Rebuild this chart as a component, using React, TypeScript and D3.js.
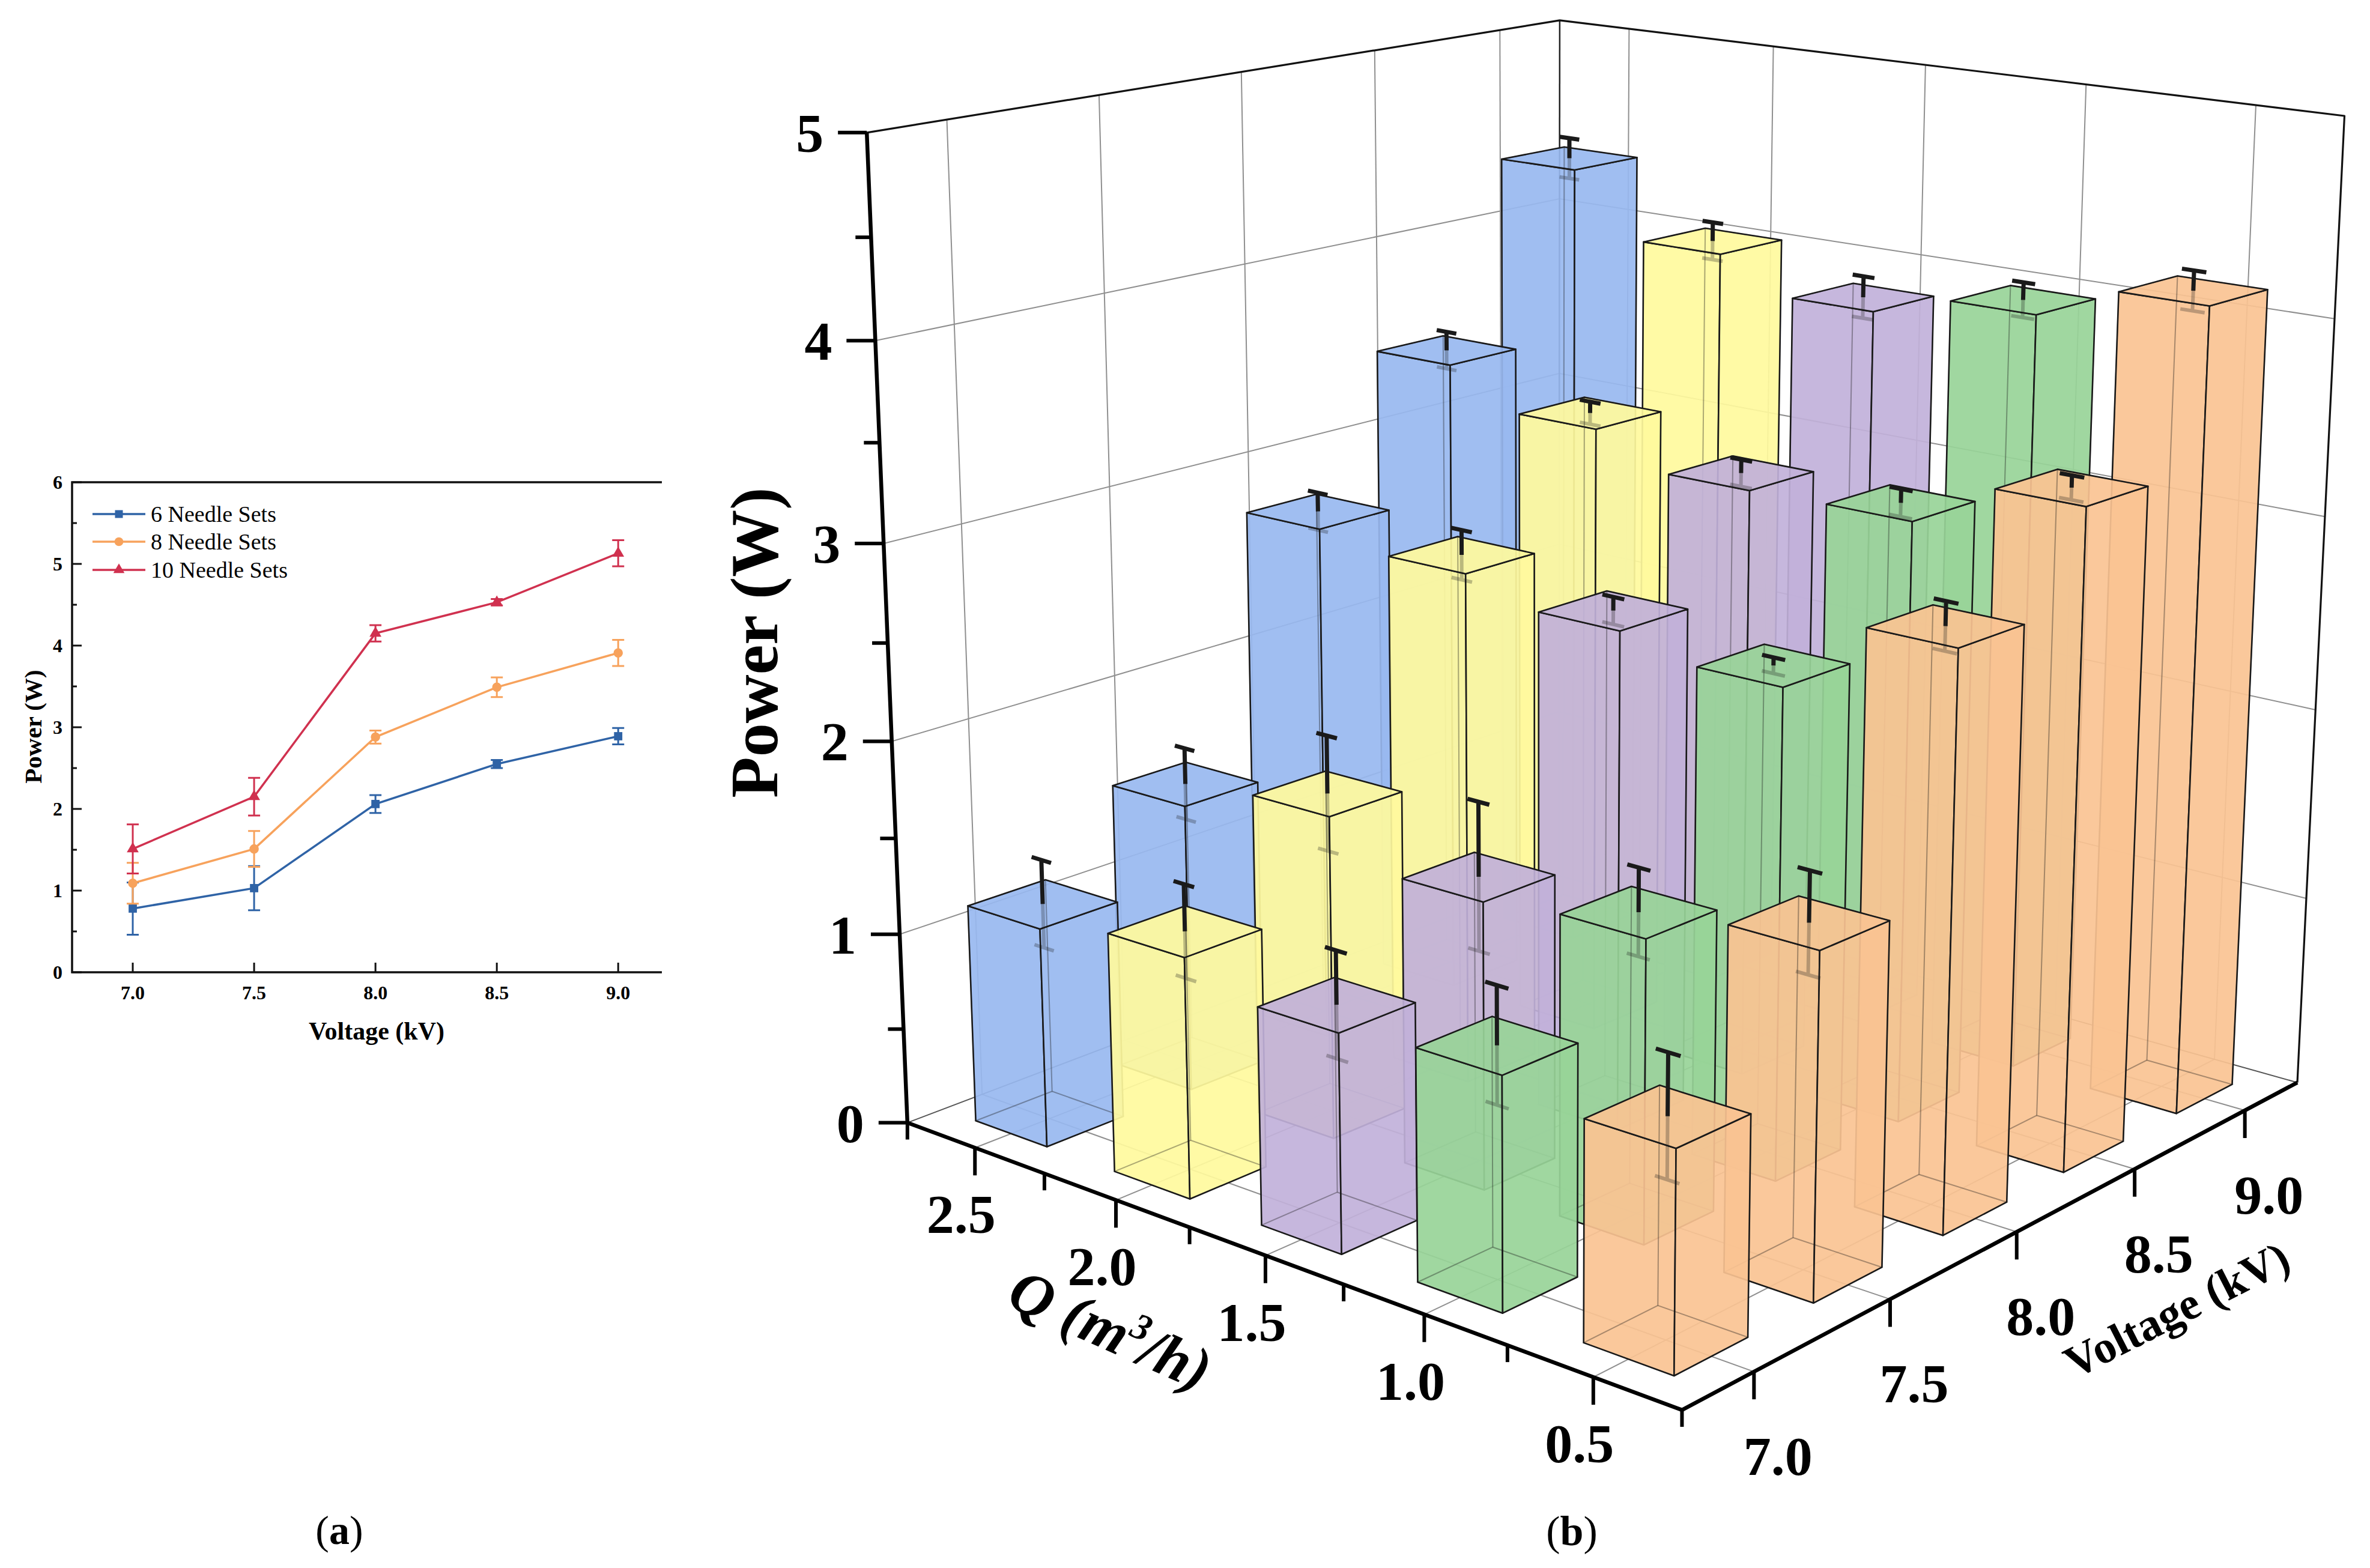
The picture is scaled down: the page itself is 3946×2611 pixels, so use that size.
import React, { useEffect, useRef } from 'react';
import * as d3 from 'd3';

const WIDTH = 3946;
const HEIGHT = 2611;
const SERIF = '"Liberation Serif", "Times New Roman", serif';

// ---------- panel (a): power vs voltage ----------
const voltageA = [7.0, 7.5, 8.0, 8.5, 9.0];
const power6 = [0.78, 1.03, 2.06, 2.55, 2.89];
const err6 = [0.32, 0.27, 0.11, 0.05, 0.1];
const power8 = [1.09, 1.51, 2.88, 3.49, 3.91];
const err8 = [0.25, 0.22, 0.08, 0.12, 0.16];
const power10 = [1.51, 2.15, 4.15, 4.53, 5.13];
const err10 = [0.3, 0.23, 0.1, 0.04, 0.16];
const seriesNames = ['6 Needle Sets', '8 Needle Sets', '10 Needle Sets'];
const seriesColors = ['#2f63a6', '#f7a25c', '#d0314f'];
const yTicksA = [0, 1, 2, 3, 4, 5, 6];

// ---------- panel (b): 3D bars, power vs Q and voltage ----------
const flowRates = [2.5, 2.0, 1.5, 1.0, 0.5];
const voltageB = [7.0, 7.5, 8.0, 8.5, 9.0];
const powerQ25 = [1.14, 1.52, 2.76, 3.45, 4.35];
const powerQ20 = [1.23, 1.68, 2.7, 3.26, 4.02];
const powerQ15 = [1.1, 1.47, 2.59, 3.1, 3.85];
const powerQ10 = [1.15, 1.52, 2.5, 3.11, 3.97];
const powerQ05 = [1.07, 1.7, 2.88, 3.35, 4.15];
const errQ25 = [0.23, 0.19, 0.1, 0.1, 0.11];
const errQ20 = [0.24, 0.3, 0.13, 0.06, 0.1];
const errQ15 = [0.27, 0.38, 0.07, 0.07, 0.11];
const errQ10 = [0.29, 0.22, 0.04, 0.07, 0.09];
const errQ05 = [0.3, 0.25, 0.12, 0.06, 0.1];
const flowColors = ['#98b8ef', '#fffa9d', '#c1b0d9', '#98d498', '#fac392'];
const powerTicksB = [0, 1, 2, 3, 4, 5];

// perspective frame: where frame corners / ticks sit on the page [V, Q, P, x, y]
const frameRefs = [
  [6.75, 2.75, 0, 1512, 1871],
  [6.75, 2.75, 5, 1445, 220],
  [9.25, 2.75, 5, 2596, 34],
  [9.25, 0.25, 5, 3905, 193],
  [9.25, 0.25, 0, 3827, 1801],
  [6.75, 0.25, 0, 2800, 2348],
  [6.75, 2.5, 0, 1622, 1912],
  [6.75, 2.0, 0, 1856, 1998],
  [6.75, 1.5, 0, 2107, 2091],
  [6.75, 1.0, 0, 2370, 2189],
  [6.75, 0.5, 0, 2653, 2294],
  [7.0, 0.25, 0, 2920, 2284],
  [7.5, 0.25, 0, 3145, 2164],
  [8.0, 0.25, 0, 3362, 2049],
  [8.5, 0.25, 0, 3554, 1946],
  [9.0, 0.25, 0, 3735, 1850],
  [6.75, 2.75, 1, 1499, 1556],
  [6.75, 2.75, 2, 1486, 1233],
  [6.75, 2.75, 3, 1473, 905],
  [6.75, 2.75, 4, 1459, 567],
  [7.0, 2.75, 5, 1574, 199],
  [7.5, 2.75, 5, 1829, 158],
  [8.0, 2.75, 5, 2065, 120],
  [8.5, 2.75, 5, 2288, 84],
  [9.0, 2.75, 5, 2498, 50],
  [9.25, 2.5, 5, 2712, 48],
  [9.25, 2.0, 5, 2953, 77],
  [9.25, 1.5, 5, 3207, 108],
  [9.25, 1.0, 5, 3474, 141],
  [9.25, 0.5, 5, 3755, 175],
  [9.25, 0.25, 4, 3886, 532],
  [9.25, 0.25, 3, 3871, 861],
];

const V_RANGE = [6.75, 9.25];
const Q_RANGE = [0.25, 2.75];
const P_MAX = 5;
const HALF_BAR = 0.13;

const nV = (v: number) => (v - 8) / 1.25;
const nQ = (q: number) => (q - 1.5) / 1.25;
const nZ = (z: number) => (z - 2.5) / 2.5;
const nx = (x: number) => (x - 2600) / 1000;
const ny = (y: number) => (y - 1200) / 1000;

// least-squares pinhole camera (DLT) through the frame reference points
function fitCamera(refs: number[][]) {
  const rows: number[][] = [];
  const rhs: number[] = [];
  refs.forEach(([v, q, z, x, y]) => {
    const X = nV(v), Y = nQ(q), Z = nZ(z);
    const u = nx(x), w = ny(y);
    rows.push([X, Y, Z, 1, 0, 0, 0, 0, -u * X, -u * Y, -u * Z]);
    rhs.push(u);
    rows.push([0, 0, 0, 0, X, Y, Z, 1, -w * X, -w * Y, -w * Z]);
    rhs.push(w);
  });
  const n = 11;
  const M = d3.range(n).map((i) => {
    const r = new Array(n + 1).fill(0);
    rows.forEach((row, k) => {
      for (let j = 0; j < n; j++) r[j] += row[i] * row[j];
      r[n] += row[i] * rhs[k];
    });
    return r;
  });
  for (let c = 0; c < n; c++) {
    let piv = c;
    for (let r = c + 1; r < n; r++) if (Math.abs(M[r][c]) > Math.abs(M[piv][c])) piv = r;
    [M[c], M[piv]] = [M[piv], M[c]];
    for (let r = 0; r < n; r++) {
      if (r === c) continue;
      const f = M[r][c] / M[c][c];
      for (let k = c; k <= n; k++) M[r][k] -= f * M[c][k];
    }
  }
  return M.map((r, i) => r[n] / r[i]);
}

const det3 = (m: number[][]) =>
  m[0][0] * (m[1][1] * m[2][2] - m[1][2] * m[2][1]) -
  m[0][1] * (m[1][0] * m[2][2] - m[1][2] * m[2][0]) +
  m[0][2] * (m[1][0] * m[2][1] - m[1][1] * m[2][0]);

function drawPanelA(svg: d3.Selection<SVGSVGElement, unknown, null, undefined>) {
  const box = { left: 120, right: 1102, top: 803, bottom: 1619 };
  const x = d3.scaleLinear().domain([6.75, 9.18]).range([box.left, box.right]);
  const y = d3.scaleLinear().domain([0, 6]).range([box.bottom, box.top]);
  const g = svg.append('g').attr('font-family', SERIF);

  g.append('path')
    .attr('d', `M${box.right},${box.top}H${box.left}V${box.bottom}H${box.right}`)
    .attr('fill', 'none')
    .attr('stroke', '#111')
    .attr('stroke-width', 3.5);

  yTicksA.forEach((t) => {
    g.append('line').attr('x1', box.left).attr('x2', box.left + 16).attr('y1', y(t)).attr('y2', y(t))
      .attr('stroke', '#111').attr('stroke-width', 3);
    g.append('text').attr('x', box.left - 16).attr('y', y(t) + 11).attr('text-anchor', 'end')
      .attr('font-size', 32).attr('font-weight', 'bold').text(t);
  });
  d3.range(0.5, 6, 1).forEach((t) => {
    g.append('line').attr('x1', box.left).attr('x2', box.left + 8).attr('y1', y(t)).attr('y2', y(t))
      .attr('stroke', '#111').attr('stroke-width', 3);
  });
  voltageA.forEach((v) => {
    g.append('line').attr('x1', x(v)).attr('x2', x(v)).attr('y1', box.bottom).attr('y2', box.bottom - 16)
      .attr('stroke', '#111').attr('stroke-width', 3);
    g.append('text').attr('x', x(v)).attr('y', 1664).attr('text-anchor', 'middle')
      .attr('font-size', 32).attr('font-weight', 'bold').text(v.toFixed(1));
  });

  const series = [power6, power8, power10];
  const errors = [err6, err8, err10];
  const symbols = [d3.symbolSquare, d3.symbolCircle, d3.symbolTriangle];
  const line = d3.line<number>().x((_, i) => x(voltageA[i])).y((d) => y(d));

  series.forEach((vals, si) => {
    const col = seriesColors[si];
    g.append('path').attr('d', line(vals)).attr('fill', 'none').attr('stroke', col).attr('stroke-width', 3.5);
    vals.forEach((d, i) => {
      const e = errors[si][i];
      const cx = x(voltageA[i]);
      g.append('path')
        .attr('d', `M${cx},${y(d - e)}V${y(d + e)}M${cx - 10},${y(d - e)}h20M${cx - 10},${y(d + e)}h20`)
        .attr('stroke', col).attr('stroke-width', 3).attr('fill', 'none');
    });
    vals.forEach((d, i) => {
      g.append('path')
        .attr('d', d3.symbol().type(symbols[si]).size(si === 2 ? 170 : 190)())
        .attr('transform', `translate(${x(voltageA[i])},${y(d)})`)
        .attr('fill', col);
    });
  });

  const legendY = [856, 902, 949];
  seriesNames.forEach((name, si) => {
    const ly = legendY[si];
    g.append('line').attr('x1', 154).attr('x2', 242).attr('y1', ly).attr('y2', ly)
      .attr('stroke', seriesColors[si]).attr('stroke-width', 3.5);
    g.append('path').attr('d', d3.symbol().type(symbols[si]).size(si === 2 ? 150 : 170)())
      .attr('transform', `translate(198,${ly})`).attr('fill', seriesColors[si]);
    g.append('text').attr('x', 251).attr('y', ly + 13).attr('font-size', 38).text(name);
  });

  g.append('text').attr('transform', 'translate(69,1210) rotate(-90)').attr('text-anchor', 'middle')
    .attr('font-size', 41).attr('font-weight', 'bold').text('Power (W)');
  g.append('text').attr('x', 627).attr('y', 1731).attr('text-anchor', 'middle')
    .attr('font-size', 42).attr('font-weight', 'bold').text('Voltage (kV)');
}

function drawPanelB(svg: d3.Selection<SVGSVGElement, unknown, null, undefined>) {
  const p = fitCamera(frameRefs);
  const project = (v: number, q: number, z: number) => {
    const X = nV(v), Y = nQ(q), Z = nZ(z);
    const den = p[8] * X + p[9] * Y + p[10] * Z + 1;
    return {
      x: 2600 + (1000 * (p[0] * X + p[1] * Y + p[2] * Z + p[3])) / den,
      y: 1200 + (1000 * (p[4] * X + p[5] * Y + p[6] * Z + p[7])) / den,
      depth: den,
    };
  };
  const pt = (v: number, q: number, z: number): [number, number] => {
    const r = project(v, q, z);
    return [r.x, r.y];
  };
  const path = (pts: [number, number][], close = true) =>
    'M' + pts.map((d) => `${d[0].toFixed(1)},${d[1].toFixed(1)}`).join('L') + (close ? 'Z' : '');

  // camera centre (for face visibility)
  const Mc = [[p[0], p[1], p[2]], [p[4], p[5], p[6]], [p[8], p[9], p[10]]];
  const rhs = [-p[3], -p[7], -1];
  const D = det3(Mc);
  const sol = [0, 1, 2].map((k) => det3(Mc.map((row, r) => row.map((val, c) => (c === k ? rhs[r] : val)))) / D);
  const cam = { v: 8 + 1.25 * sol[0], q: 1.5 + 1.25 * sol[1], z: 2.5 + 2.5 * sol[2] };

  const [v0, v1] = V_RANGE;
  const [q0, q1] = Q_RANGE;
  const g = svg.append('g').attr('font-family', SERIF);

  // walls and floor
  const walls = [
    [pt(v0, q1, 0), pt(v1, q1, 0), pt(v1, q1, P_MAX), pt(v0, q1, P_MAX)],
    [pt(v1, q1, 0), pt(v1, q0, 0), pt(v1, q0, P_MAX), pt(v1, q1, P_MAX)],
    [pt(v0, q1, 0), pt(v1, q1, 0), pt(v1, q0, 0), pt(v0, q0, 0)],
  ];
  walls.forEach((w) => g.append('path').attr('d', path(w as [number, number][])).attr('fill', '#fff'));

  const grid = g.append('g').attr('stroke', '#8f8f8f').attr('stroke-width', 2).attr('fill', 'none');
  voltageB.forEach((v) => {
    grid.append('path').attr('d', path([pt(v, q1, 0), pt(v, q1, P_MAX)], false));
    grid.append('path').attr('d', path([pt(v, q0, 0), pt(v, q1, 0)], false));
  });
  flowRates.forEach((q) => {
    grid.append('path').attr('d', path([pt(v1, q, 0), pt(v1, q, P_MAX)], false));
    grid.append('path').attr('d', path([pt(v0, q, 0), pt(v1, q, 0)], false));
  });
  powerTicksB.filter((t) => t > 0 && t < P_MAX).forEach((t) => {
    grid.append('path').attr('d', path([pt(v0, q1, t), pt(v1, q1, t), pt(v1, q0, t)], false));
  });
  g.append('path').attr('d', path([pt(v0, q1, 0), pt(v1, q1, 0), pt(v1, q0, 0)], false))
    .attr('fill', 'none').attr('stroke', '#555').attr('stroke-width', 2);
  g.append('path').attr('d', path([pt(v1, q1, 0), pt(v1, q1, P_MAX)], false))
    .attr('fill', 'none').attr('stroke', '#222').attr('stroke-width', 2.5);
  g.append('path').attr('d', path([pt(v0, q1, P_MAX), pt(v1, q1, P_MAX), pt(v1, q0, P_MAX), pt(v1, q0, 0)], false))
    .attr('fill', 'none').attr('stroke', '#111').attr('stroke-width', 3.2).attr('stroke-linejoin', 'round');

  // bars, painted far to near
  const powers = [powerQ25, powerQ20, powerQ15, powerQ10, powerQ05];
  const errs = [errQ25, errQ20, errQ15, errQ10, errQ05];
  const bars = flowRates.flatMap((q, qi) =>
    voltageB.map((v, vi) => ({
      q, v, h: powers[qi][vi], e: errs[qi][vi], color: flowColors[qi],
      depth: project(v, q, powers[qi][vi] / 2).depth,
    })),
  );
  bars.sort((a, b) => b.depth - a.depth);

  const barLayer = g.append('g');
  bars.forEach((b) => {
    const a0 = b.v - HALF_BAR, a1 = b.v + HALF_BAR, c0 = b.q - HALF_BAR, c1 = b.q + HALF_BAR;
    const h = b.h;
    const faces = [
      { pts: [[a0, c0, 0], [a0, c1, 0], [a0, c1, h], [a0, c0, h]], vis: cam.v < a0 },
      { pts: [[a1, c0, 0], [a1, c1, 0], [a1, c1, h], [a1, c0, h]], vis: cam.v > a1 },
      { pts: [[a0, c0, 0], [a1, c0, 0], [a1, c0, h], [a0, c0, h]], vis: cam.q < c0 },
      { pts: [[a0, c1, 0], [a1, c1, 0], [a1, c1, h], [a0, c1, h]], vis: cam.q > c1 },
      { pts: [[a0, c0, 0], [a1, c0, 0], [a1, c1, 0], [a0, c1, 0]], vis: cam.z < 0 },
      { pts: [[a0, c0, h], [a1, c0, h], [a1, c1, h], [a0, c1, h]], vis: cam.z > h },
    ];
    const back = faces.filter((f) => !f.vis);
    const front = faces.filter((f) => f.vis);
    const bg = barLayer.append('g');
    const facePath = (f: { pts: number[][] }) => path(f.pts.map((d) => pt(d[0], d[1], d[2])));

    back.forEach((f) => bg.append('path').attr('d', facePath(f)).attr('fill', b.color).attr('fill-opacity', 0.2));
    front.forEach((f) =>
      bg.append('path').attr('d', facePath(f)).attr('fill', b.color).attr('fill-opacity', 0.9)
        .attr('stroke', '#1a1a1a').attr('stroke-width', 2.6).attr('stroke-linejoin', 'round'));

    // hidden edges and the lower half of the error bar, seen faintly through the bar
    back.forEach((f) =>
      bg.append('path').attr('d', facePath(f)).attr('fill', 'none')
        .attr('stroke', '#1a1a1a').attr('stroke-opacity', 0.2).attr('stroke-width', 2));
    const capW = 0.035;
    const topC = pt(b.v, b.q, h);
    bg.append('path')
      .attr('d', path([topC, pt(b.v, b.q, h - b.e)], false) +
        path([pt(b.v, b.q - capW, h - b.e), pt(b.v, b.q + capW, h - b.e)], false))
      .attr('stroke', '#1a1a1a').attr('stroke-opacity', 0.28).attr('stroke-width', 6).attr('fill', 'none');

    bg.append('path')
      .attr('d', path([topC, pt(b.v, b.q, h + b.e)], false) +
        path([pt(b.v, b.q - capW, h + b.e), pt(b.v, b.q + capW, h + b.e)], false))
      .attr('stroke', '#1a1a1a').attr('stroke-width', 7).attr('fill', 'none');
  });

  // axes
  const axis = g.append('g').attr('stroke', '#000').attr('fill', 'none').attr('stroke-linecap', 'butt');
  axis.append('path').attr('d', path([pt(v0, q1, P_MAX), pt(v0, q1, 0), pt(v0, q0, 0), pt(v1, q0, 0)], false))
    .attr('stroke-width', 6.5).attr('stroke-linejoin', 'miter');

  powerTicksB.forEach((t) => {
    const [x0, y0] = pt(v0, q1, t);
    axis.append('line').attr('x1', x0).attr('x2', x0 - 48).attr('y1', y0).attr('y2', y0).attr('stroke-width', 6);
    g.append('text').attr('x', x0 - 72).attr('y', y0 + 32).attr('text-anchor', 'end')
      .attr('font-size', 92).attr('font-weight', 'bold').text(t);
  });
  d3.range(0.5, P_MAX, 1).forEach((t) => {
    const [x0, y0] = pt(v0, q1, t);
    axis.append('line').attr('x1', x0).attr('x2', x0 - 26).attr('y1', y0).attr('y2', y0).attr('stroke-width', 6);
  });

  flowRates.forEach((q) => {
    const [x0, y0] = pt(v0, q, 0);
    axis.append('line').attr('x1', x0).attr('x2', x0).attr('y1', y0).attr('y2', y0 + 46).attr('stroke-width', 6);
    g.append('text').attr('x', x0 - 23).attr('y', y0 + 142).attr('text-anchor', 'middle')
      .attr('font-size', 92).attr('font-weight', 'bold').text(q.toFixed(1));
  });
  d3.range(Q_RANGE[0], Q_RANGE[1] + 0.01, 0.5).forEach((q) => {
    const [x0, y0] = pt(v0, q, 0);
    axis.append('line').attr('x1', x0).attr('x2', x0).attr('y1', y0).attr('y2', y0 + 28).attr('stroke-width', 6);
  });
  voltageB.forEach((v) => {
    const [x0, y0] = pt(v, q0, 0);
    axis.append('line').attr('x1', x0).attr('x2', x0).attr('y1', y0).attr('y2', y0 + 46).attr('stroke-width', 6);
    g.append('text').attr('x', x0 + 40).attr('y', y0 + 172).attr('text-anchor', 'middle')
      .attr('font-size', 92).attr('font-weight', 'bold').text(v.toFixed(1));
  });

  g.append('text').attr('transform', 'translate(1294,1070) rotate(-90)').attr('text-anchor', 'middle')
    .attr('font-size', 112).attr('font-weight', 'bold').text('Power (W)');
  const qt = g.append('text').attr('transform', 'translate(1835,2245) rotate(24)').attr('text-anchor', 'middle')
    .attr('font-size', 100).attr('font-weight', 'bold').attr('font-style', 'italic');
  qt.append('tspan').text('Q (m');
  qt.append('tspan').attr('font-size', 62).attr('dy', -38).text('3');
  qt.append('tspan').attr('dy', 38).text('/h)');
  g.append('text').attr('transform', 'translate(3636,2204) rotate(-27)').attr('text-anchor', 'middle')
    .attr('font-size', 76).attr('font-weight', 'bold').text('Voltage (kV)');
}

export default function App() {
  const svgRef = useRef<SVGSVGElement>(null);

  useEffect(() => {
    if (!svgRef.current) return;
    const svg = d3.select(svgRef.current);
    svg.selectAll('*').remove();
    svg.append('rect').attr('width', WIDTH).attr('height', HEIGHT).attr('fill', '#fff');
    drawPanelA(svg);
    drawPanelB(svg);

    const cap = svg.append('g').attr('font-family', SERIF).attr('text-anchor', 'middle');
    const ta = cap.append('text').attr('x', 565).attr('y', 2571).attr('font-size', 68);
    ta.append('tspan').text('(');
    ta.append('tspan').attr('font-weight', 'bold').text('a');
    ta.append('tspan').text(')');
    const tb = cap.append('text').attr('x', 2617).attr('y', 2573).attr('font-size', 70);
    tb.append('tspan').text('(');
    tb.append('tspan').attr('font-weight', 'bold').text('b');
    tb.append('tspan').text(')');
  }, []);

  return (
    <svg
      ref={svgRef}
      width={WIDTH}
      height={HEIGHT}
      style={{ position: 'absolute', left: 0, top: 0, display: 'block' }}
    />
  );
}
